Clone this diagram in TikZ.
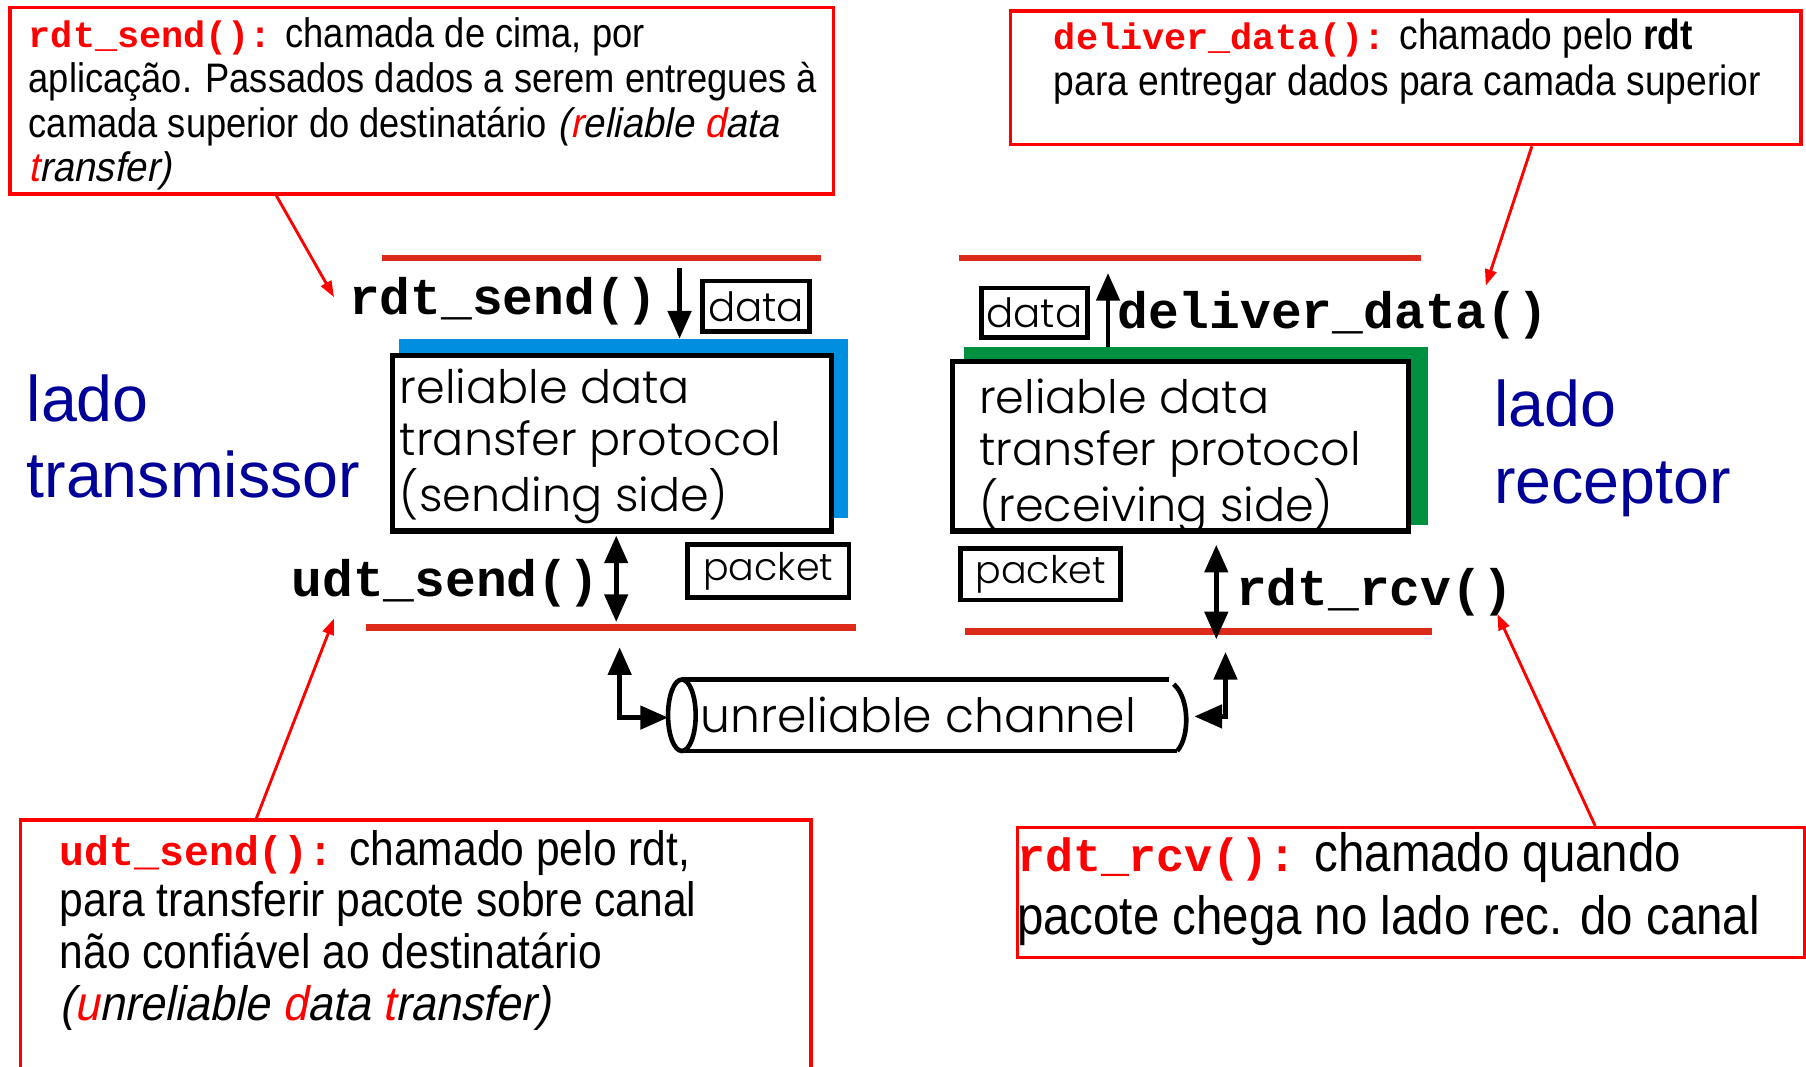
\documentclass[tikz,border=0pt]{standalone}
\usepackage{fontspec}
\setmainfont{Liberation Sans}
\newfontfamily\callfont{Liberation Sans}[
  UprightFeatures={FakeStretch=0.88}, BoldFeatures={FakeStretch=0.88},
  ItalicFont=Liberation Sans, ItalicFeatures={FakeSlant=0.2, FakeStretch=0.93}]
\newfontfamily\codefont{Liberation Mono}
\newfontfamily\geofont{Poppins}[UprightFont=* Light]
\usetikzlibrary{arrows.meta}

\definecolor{calloutred}{RGB}{255,0,0}
\definecolor{layerred}{RGB}{221,43,27}
\definecolor{sendblue}{RGB}{0,143,224}
\definecolor{recvgreen}{RGB}{0,145,64}
\definecolor{sidelabel}{RGB}{0,0,153}

\newcommand\setsz[1]{\fontsize{#1}{#1}\selectfont}
\newcommand\callcode[2]{{\codefont\bfseries\fontsize{#1}{#1}\selectfont\color{calloutred}#2}}
\newcommand\rl[1]{\textcolor{calloutred}{#1}}

\tikzset{
  callout/.style={draw=calloutred, line width=3pt},
  calltext/.style={anchor=base west, inner sep=0pt, outer sep=0pt},
  layerline/.style={draw=layerred, line width=6pt},
  blackbox/.style={draw=black, fill=white, line width=4.5pt, inner sep=0pt, outer sep=0pt, anchor=north west},
  tagbox/.style={draw=black, fill=white, line width=4pt, inner sep=0pt, outer sep=0pt, anchor=north west},
  shadowbox/.style={inner sep=0pt, outer sep=0pt, anchor=north west},
  apicode/.style={anchor=base west, inner sep=0pt, font=\codefont\bfseries\setsz{44.5}},
  sidetext/.style={anchor=base west, inner sep=0pt, text=sidelabel, font=\setsz{56}},
  prototext/.style={anchor=north west, inner sep=0pt, align=left, font=\geofont\fontsize{40}{45}\selectfont},
  bigarrow/.style={line width=4pt, -{Triangle[length=24pt,width=20pt]}},
  bigdouble/.style={line width=4pt, {Triangle[length=24pt,width=20pt]}-{Triangle[length=24pt,width=20pt]}},
  callarrow/.style={draw=calloutred, line width=2.5pt, -{Triangle[length=14pt,width=10pt]}},
}

\begin{document}
\begin{tikzpicture}[x=1pt,y=-1pt]
\useasboundingbox (0,0) rectangle (1568,926);
\clip (0,0) rectangle (1568,926);

% ---------- callout boxes ----------
\node[callout, minimum width=715, minimum height=162, anchor=north west, inner sep=0pt] (tlbox) at (7,5) {};
\begin{scope}[every node/.style={calltext, font=\callfont\setsz{35.8}}]
\node (tl1) at (25,41) {\callcode{32}{rdt\_send():} chamada de cima, por};
\node (tl2) at (25,80) {aplicação. Passados dados a serem entregues à};
\node (tl3) at (25,119) {camada superior do destinatário {\itshape (\rl{r}eliable \rl{d}ata}};
\node (tl4) at (25,158) {{\itshape \rl{t}ransfer)}};
\end{scope}

\node[callout, minimum width=686, minimum height=116, anchor=north west, inner sep=0pt] (trbox) at (876,8) {};
\begin{scope}[every node/.style={calltext, font=\callfont\setsz{36.7}}]
\node (tr1) at (915,43) {\callcode{32}{deliver\_data():} chamado pelo \textbf{rdt}};
\node (tr2) at (915,83) {para entregar dados para camada superior};
\end{scope}

\draw[callout] (18,960) |- (704,712) -- (704,960);
\coordinate (bltop) at (222,712);
\begin{scope}[every node/.style={calltext, font=\callfont\setsz{42}}]
\node (bl1) at (52,751) {\callcode{36}{udt\_send():} chamado pelo rdt,};
\node (bl2) at (52,796) {para transferir pacote sobre canal};
\node (bl3) at (52,841) {não confiável ao destinatário};
\node (bl4) at (52,886) {{\itshape (\rl{u}nreliable \rl{d}ata \rl{t}ransfer)}};
\end{scope}

\node[callout, minimum width=683, minimum height=113, anchor=north west, inner sep=0pt] (brbox) at (882,717) {};
\begin{scope}[every node/.style={calltext, font=\callfont\setsz{46.8}}]
\node (br1) at (883,757) {\callcode{40.5}{rdt\_rcv():} chamado quando};
\node (br2) at (883,811) {pacote chega no lado rec. do canal};
\end{scope}

% ---------- layer boundaries ----------
\draw[layerline] (332,224) -- (713,224);
\draw[layerline] (318,545) -- (743,545);
\draw[layerline] (833,224) -- (1234,224);
\draw[layerline] (838,548) -- (1243,548);

% ---------- sending side ----------
\node[shadowbox, fill=sendblue, minimum width=390, minimum height=156] (shS) at (346,294) {};
\node[blackbox, minimum width=381, minimum height=152] (boxS) at (341,309) {};
\node[prototext] (txtS) at (347,320) {reliable data\\transfer protocol\\(sending side)};

\node[apicode] (rdtsend) at (303,273) {rdt\_send()};
\node[tagbox, minimum width=93, minimum height=44, font=\geofont\setsz{35}] (dataS) at (610,244) {data};
\coordinate (sendTop) at (590,233);
\draw[bigarrow] (sendTop) -- (sendTop |- shS.north);

\node[apicode] (udtsend) at (253,518) {udt\_send()};
\node[tagbox, minimum width=140, minimum height=46, font=\geofont\setsz{33}] (pktS) at (597,473) {packet};
\coordinate (udtTop) at (535,465);
\coordinate (udtBot) at (535,540);
\draw[bigdouble] (udtTop) -- (udtBot);

% ---------- receiving side ----------
\node[shadowbox, fill=recvgreen, minimum width=403, minimum height=155] (shR) at (837,301) {};
\node[blackbox, minimum width=396, minimum height=147] (boxR) at (827,314) {};
\node[prototext] (txtR) at (850,329) {reliable data\\transfer protocol\\(receiving side)};

\node[apicode] (deliver) at (970,285) {deliver\_data()};
\node[tagbox, minimum width=92, minimum height=43, font=\geofont\setsz{35}] (dataR) at (852,250) {data};
\coordinate (recvTop) at (962,237);
\draw[bigarrow] (recvTop |- shR.north) -- (recvTop);

\node[apicode] (rdtrcv) at (1073,526) {rdt\_rcv()};
\node[tagbox, minimum width=139, minimum height=45, font=\geofont\setsz{33}] (pktR) at (834,476) {packet};
\coordinate (rcvTop) at (1056,473);
\coordinate (rcvBot) at (1056,555);
\draw[bigdouble] (rcvTop) -- (rcvBot);

% ---------- side labels ----------
\node[sidetext] (ladoS) at (23,366) {lado};
\node[sidetext] (transm) at (23,432) {transmissor};
\node[sidetext] (ladoR) at (1297,370) {lado};
\node[sidetext] (recep) at (1297,437) {receptor};

% ---------- unreliable channel ----------
\node[anchor=base west, inner sep=0pt, font=\geofont\setsz{41}] (chan) at (608,636) {unreliable channel};
\draw[line width=4pt] (592,621) ellipse [x radius=12, y radius=31];
\draw[line width=4pt] (592,590) -- (1015,590);
\draw[line width=4pt] (592,652) -- (1022,652);
\draw[line width=4pt] (1019,594) .. controls (1033,606) and (1033,640) .. (1022,652);
\coordinate (chanL) at (580,623);
\coordinate (chanR) at (1037,622);
\coordinate (leftUp) at (538,562);
\coordinate (rightUp) at (1064,566);
\draw[bigdouble] (leftUp) |- (chanL);
\draw[bigdouble] (rightUp) |- (chanR);

% ---------- callout pointers ----------
\coordinate (ptrSend) at (290,258);
\coordinate (ptrDeliver) at (1290,248);
\coordinate (ptrUdt) at (290,537);
\coordinate (ptrRcv) at (1300,533);
\draw[callarrow] ([xshift=233pt]tlbox.south west) -- (ptrSend);
\draw[callarrow] ([xshift=454pt]trbox.south west) -- (ptrDeliver);
\draw[callarrow] (bltop) -- (ptrUdt);
\draw[callarrow] ([xshift=503pt]brbox.north west) -- (ptrRcv);
\end{tikzpicture}
\end{document}
